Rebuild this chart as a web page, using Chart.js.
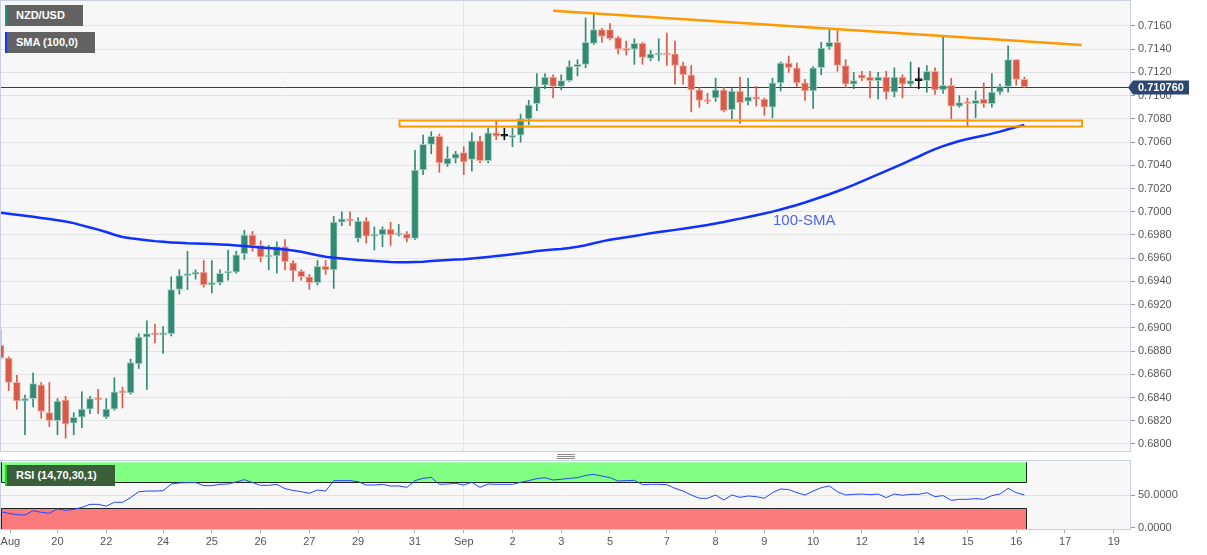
<!DOCTYPE html>
<html>
<head>
<meta charset="utf-8">
<script src="https://cdn.jsdelivr.net/npm/chart.js@4.4.0/dist/chart.umd.min.js"></script>
<style>
    body { margin: 0; background: #fff; font-family: "Liberation Sans", Arial, sans-serif; }
    #wrap { position: relative; width: 1207px; height: 555px; overflow: hidden; }
    #priceChart { position: absolute; left: 0; top: 0; }
    #rsiChart { position: absolute; left: 0; top: 453px; }
    .tag { position: absolute; left: 5px; height: 21px; line-height: 21px; padding-left: 9px;
           box-sizing: border-box; color: #fff; font-weight: bold; font-size: 11px; white-space: nowrap; }
    #smaNote { position: absolute; left: 773px; top: 211px; color: #4a66f2; font-size: 15px; }
    .grip { position: absolute; left: 557px; width: 18px; height: 1px; background: #8a8a8a; }
</style>
</head>
<body>
<div id="wrap">
    <canvas id="priceChart" width="1207" height="453"></canvas>
    <canvas id="rsiChart" width="1207" height="102"></canvas>
    <div class="tag" style="top:5px;width:78px;background:#626262;border-left:2px solid #2a8f74;">NZD/USD</div>
    <div class="tag" style="top:32px;width:90px;background:#626262;border-left:2px solid #1432ff;">SMA (100,0)</div>
    <div class="tag" style="top:465px;width:110px;background:#3a5e3a;border-left:2px solid #1ed41e;">RSI (14,70,30,1)</div>
    <div id="smaNote">100-SMA</div>
    <div class="grip" style="top:454px"></div>
    <div class="grip" style="top:456px"></div>
    <div class="grip" style="top:458px"></div>
</div>
<script>
// 4h candles, NZD/USD, Aug 19 - Sep 16
const opens = [
    0.6885,0.6874,0.6853,0.6837,0.6839,0.6851,0.6827,0.6820,0.6838,0.6818,
    0.6823,0.6830,0.6839,0.6823,0.6830,0.6845,0.6844,0.6869,0.6892,0.6895,
    0.6894,0.6895,0.6933,0.6945,0.6946,0.6948,0.6937,0.6939,0.6947,0.6948,
    0.6964,0.6980,0.6971,0.6961,0.6962,0.6970,0.6956,0.6949,0.6944,0.6939,
    0.6953,0.6950,0.6991,0.6994,0.6977,0.6992,0.6979,0.6980,0.6985,0.6980,
    0.6981,0.6977,0.7036,0.7058,0.7065,0.7041,0.7046,0.7051,0.7045,0.7061,
    0.7044,0.7068,0.7065,0.7064,0.7066,0.7080,0.7093,0.7109,0.7116,0.7108,
    0.7113,0.7125,0.7127,0.7145,0.7157,0.7157,0.7150,0.7140,0.7140,0.7145,
    0.7132,0.7135,0.7136,0.7136,0.7126,0.7118,0.7105,0.7096,0.7098,0.7105,
    0.7088,0.7104,0.7095,0.7099,0.7097,0.7090,0.7111,0.7128,0.7124,0.7111,
    0.7104,0.7124,0.7142,0.7146,0.7126,0.7110,0.7118,0.7116,0.7113,0.7116,
    0.7103,0.7116,0.7110,0.7113,0.7113,0.7121,0.7105,0.7109,0.7091,0.7094,
    0.7093,0.7097,0.7093,0.7103,0.7108,0.7131,0.7114
];
const highs = [
    0.6898,0.6875,0.6859,0.6842,0.6861,0.6853,0.6853,0.6839,0.6841,0.6827,
    0.6845,0.6841,0.6847,0.6839,0.6857,0.6849,0.6873,0.6895,0.6906,0.6903,
    0.6901,0.6944,0.6950,0.6966,0.6950,0.6958,0.6958,0.6950,0.6967,0.6966,
    0.6984,0.6983,0.6975,0.6971,0.6974,0.6976,0.6958,0.6950,0.6946,0.6958,
    0.6958,0.6996,0.7000,0.7000,0.6995,0.6995,0.6987,0.6987,0.6991,0.6989,
    0.6983,0.7053,0.7066,0.7069,0.7067,0.7056,0.7052,0.7056,0.7068,0.7065,
    0.7072,0.7078,0.7072,0.7072,0.7084,0.7096,0.7119,0.7119,0.7118,0.7118,
    0.7130,0.7131,0.7167,0.7170,0.7158,0.7162,0.7151,0.7147,0.7149,0.7146,
    0.7139,0.7149,0.7154,0.7147,0.7129,0.7126,0.7107,0.7102,0.7115,0.7107,
    0.7106,0.7116,0.7115,0.7108,0.7098,0.7115,0.7129,0.7134,0.7128,0.7114,
    0.7125,0.7146,0.7157,0.7156,0.7131,0.7120,0.7121,0.7121,0.7120,0.7121,
    0.7124,0.7118,0.7129,0.7124,0.7126,0.7124,0.7151,0.7115,0.7100,0.7098,
    0.7104,0.7111,0.7119,0.7110,0.7143,0.7131,0.7116
];
const lows = [
    0.6873,0.6846,0.6830,0.6808,0.6832,0.6822,0.6815,0.6808,0.6805,0.6808,
    0.6814,0.6826,0.6826,0.6822,0.6829,0.6831,0.6843,0.6865,0.6847,0.6887,
    0.6878,0.6893,0.6929,0.6933,0.6942,0.6935,0.6930,0.6937,0.6941,0.6947,
    0.6959,0.6966,0.6957,0.6950,0.6947,0.6950,0.6940,0.6941,0.6933,0.6937,
    0.6946,0.6934,0.6988,0.6988,0.6974,0.6973,0.6967,0.6970,0.6971,0.6979,
    0.6974,0.6976,0.7032,0.7050,0.7034,0.7039,0.7042,0.7032,0.7035,0.7042,
    0.7042,0.7062,0.7062,0.7056,0.7060,0.7075,0.7087,0.7106,0.7098,0.7105,
    0.7112,0.7117,0.7124,0.7144,0.7146,0.7148,0.7136,0.7135,0.7127,0.7127,
    0.7130,0.7130,0.7126,0.7110,0.7110,0.7086,0.7090,0.7093,0.7095,0.7086,
    0.7080,0.7076,0.7092,0.7091,0.7083,0.7081,0.7104,0.7120,0.7108,0.7096,
    0.7089,0.7118,0.7140,0.7121,0.7107,0.7106,0.7113,0.7098,0.7097,0.7097,
    0.7099,0.7098,0.7108,0.7106,0.7103,0.7101,0.7102,0.7080,0.7090,0.7074,
    0.7081,0.7090,0.7090,0.7101,0.7103,0.7109,0.7107
];
const closes = [
    0.6874,0.6853,0.6837,0.6839,0.6852,0.6828,0.6820,0.6837,0.6817,0.6823,
    0.6830,0.6839,0.6838,0.6830,0.6845,0.6844,0.6870,0.6892,0.6895,0.6894,
    0.6895,0.6933,0.6945,0.6946,0.6948,0.6937,0.6939,0.6947,0.6948,0.6963,
    0.6980,0.6971,0.6961,0.6962,0.6970,0.6957,0.6949,0.6944,0.6939,0.6953,
    0.6950,0.6991,0.6994,0.6992,0.6992,0.6979,0.6980,0.6985,0.6980,0.6981,
    0.6977,0.7036,0.7058,0.7065,0.7042,0.7046,0.7050,0.7043,0.7061,0.7044,
    0.7068,0.7065,0.7065,0.7065,0.7080,0.7092,0.7108,0.7116,0.7108,0.7113,
    0.7125,0.7127,0.7146,0.7157,0.7151,0.7149,0.7140,0.7139,0.7145,0.7133,
    0.7136,0.71355,0.7135,0.7126,0.7118,0.7105,0.7096,0.7095,0.7105,0.7087,
    0.7104,0.7094,0.7099,0.7097,0.7090,0.7111,0.7128,0.7124,0.7111,0.7104,
    0.7124,0.7141,0.7146,0.7126,0.7110,0.7113,0.7115,0.7113,0.7116,0.7103,
    0.7116,0.7110,0.7113,0.7113,0.7121,0.7105,0.7109,0.7091,0.7094,0.7093,
    0.7096,0.7093,0.7103,0.7108,0.7131,0.7114,0.71076
];
const sma100 = [
    0.69991,0.69982,0.69974,0.69966,0.69957,0.69947,0.69937,0.69927,0.69916,0.69902,
    0.69883,0.69864,0.69846,0.69826,0.69802,0.69783,0.69772,0.69764,0.69755,0.69747,
    0.69741,0.69736,0.69732,0.69728,0.69726,0.69724,0.69722,0.69719,0.69715,0.69709,
    0.69704,0.69699,0.69693,0.69687,0.69681,0.69674,0.69666,0.69655,0.69641,0.69625,
    0.69612,0.69604,0.69597,0.69591,0.69585,0.69580,0.69576,0.69572,0.69568,0.69566,
    0.69565,0.69567,0.69570,0.69575,0.69580,0.69585,0.69588,0.69591,0.69597,0.69603,
    0.69610,0.69618,0.69626,0.69634,0.69642,0.69652,0.69661,0.69668,0.69674,0.69680,
    0.69688,0.69698,0.69712,0.69728,0.69745,0.69758,0.69770,0.69781,0.69792,0.69803,
    0.69815,0.69825,0.69834,0.69844,0.69853,0.69864,0.69875,0.69886,0.69899,0.69912,
    0.69927,0.69941,0.69955,0.69970,0.69985,0.70001,0.70020,0.70039,0.70058,0.70080,
    0.70103,0.70127,0.70151,0.70177,0.70204,0.70232,0.70262,0.70292,0.70322,0.70352,
    0.70382,0.70413,0.70444,0.70476,0.70509,0.70539,0.70565,0.70588,0.70609,0.70627,
    0.70641,0.70656,0.70673,0.70690,0.70710,0.70730,0.70747
];
const rsi14 = [
    24.5,22,20,19.4,26,23.5,22,28.6,26.5,28,
    31,35.7,35.7,33,38.8,38.8,46,55,56,56,
    56.6,66.8,68.4,69,69,64.3,64.3,66.3,66.8,70,
    73.5,69,64.8,64.8,66.3,59.7,57,55,52.5,57.6,
    56,72,72,72,70.4,65.3,65.3,66.3,63.8,63.8,
    61.7,72,75.5,77,66.3,66.8,67.8,65.3,69.4,61.7,
    66.8,66.3,66.3,66.3,69.4,72,75,76.5,73,74,
    75.5,76.5,80,81.6,79,76.5,71.4,72,72.4,65.8,
    66.3,66.3,65.8,60.2,56,50,45,45,50,42.4,
    50,46.4,48.5,47.5,45,53.6,59.2,58.2,53.6,50,
    56,61.2,63.8,55,50,51,51.5,50.5,51.5,46,
    51.5,49.5,51,51,53.6,47.5,49,41.8,43.4,43.4,
    44.4,43.4,49,51.5,60.2,53.6,50
];

// bottom axis labels (candle index -> text)
const tickIndex = [1.2, 7, 13, 20, 26, 32, 38, 44, 51, 57, 63, 69, 75, 82, 88, 94, 100, 106, 113, 119, 125, 131, 137];
const tickText = ['Aug', '20', '22', '24', '25', '26', '27', '29', '31', 'Sep', '2', '3', '5', '7', '8', '9', '10', '12', '14', '15', '16', '17', '19'];
const priceTicks = [0.6800, 0.6820, 0.6840, 0.6860, 0.6880, 0.6900, 0.6920, 0.6940, 0.6960, 0.6980,
                    0.7000, 0.7020, 0.7040, 0.7060, 0.7080, 0.7100, 0.7120, 0.7140, 0.7160];
const rsiTicks = [0, 50];
const monthStart = 57;

// drawn studies: falling resistance line and support zone
const resistanceLine = [[68.0, 0.71732], [133.05, 0.71436]];
const supportZone = [49.1, 133.1, 0.70734, 0.70786];

const xMin = 0.05, xMax = 139.0;
const lastPrice = closes[closes.length - 1];
const GREEN = '#338a73', RED = '#d95a48';

function candleColor(i) {
    if (closes[i] > opens[i]) return GREEN;
    if (closes[i] < opens[i]) return RED;
    return '#111';
}
function candleEdge(i) {
    if (closes[i] > opens[i]) return 'rgba(160,205,192,0.9)';
    if (closes[i] < opens[i]) return 'rgba(240,170,160,0.9)';
    return '#111';
}

function clearPadding(s) {
    s.paddingLeft = 0; s.paddingRight = 0; s.paddingTop = 0; s.paddingBottom = 0;
}

const frame = {
    id: 'frame',
    beforeDraw(chart) {
        const a = chart.chartArea, ctx = chart.ctx;
        ctx.save();
        ctx.fillStyle = '#f7f7f7';
        ctx.fillRect(a.left, a.top, a.right - a.left, a.bottom - a.top);
        ctx.restore();
    },
    afterDraw(chart) {
        const a = chart.chartArea, ctx = chart.ctx;
        ctx.save();
        ctx.strokeStyle = '#c9d0e4';
        ctx.lineWidth = 1;
        ctx.strokeRect(a.left - 0.5, a.top - 0.5, a.right - a.left + 1, a.bottom - a.top + 1);
        ctx.restore();
    }
};

const priceMarks = {
    id: 'priceMarks',
    beforeDatasetsDraw(chart) {
        const a = chart.chartArea, ctx = chart.ctx;
        const y = Math.round(chart.scales.y.getPixelForValue(lastPrice)) + 0.5;
        ctx.save();
        ctx.strokeStyle = '#2b3d63';
        ctx.lineWidth = 1;
        ctx.beginPath();
        ctx.moveTo(a.left, y);
        ctx.lineTo(a.right, y);
        ctx.stroke();
        ctx.restore();
    },
    afterDatasetsDraw(chart) {
        const x = chart.scales.x, y = chart.scales.y, ctx = chart.ctx;
        ctx.save();
        ctx.strokeStyle = '#ff9900';
        ctx.lineWidth = 2.5;
        ctx.beginPath();
        ctx.moveTo(x.getPixelForValue(resistanceLine[0][0]), y.getPixelForValue(resistanceLine[0][1]));
        ctx.lineTo(x.getPixelForValue(resistanceLine[1][0]), y.getPixelForValue(resistanceLine[1][1]));
        ctx.stroke();
        ctx.lineWidth = 2;
        const x0 = x.getPixelForValue(supportZone[0]), x1 = x.getPixelForValue(supportZone[1]);
        const y0 = y.getPixelForValue(supportZone[3]), y1 = y.getPixelForValue(supportZone[2]);
        ctx.strokeRect(x0, y0, x1 - x0, y1 - y0);
        ctx.restore();
    },
    afterDraw(chart) {
        const a = chart.chartArea, ctx = chart.ctx;
        const y = Math.round(chart.scales.y.getPixelForValue(lastPrice)) + 0.5;
        ctx.save();
        ctx.fillStyle = '#2d4770';
        ctx.beginPath();
        ctx.moveTo(a.right - 2, y);
        ctx.lineTo(a.right + 3, y - 7);
        ctx.lineTo(a.right + 59, y - 7);
        ctx.lineTo(a.right + 59, y + 7);
        ctx.lineTo(a.right + 3, y + 7);
        ctx.closePath();
        ctx.fill();
        ctx.fillStyle = '#fff';
        ctx.font = 'bold 11px "Liberation Sans", Arial, sans-serif';
        ctx.textBaseline = 'middle';
        ctx.fillText(lastPrice.toFixed(6), a.right + 8, y + 0.5);
        ctx.restore();
    }
};

const rsiBands = {
    id: 'rsiBands',
    beforeDatasetsDraw(chart) {
        const a = chart.chartArea, ctx = chart.ctx;
        const x = chart.scales.x, y = chart.scales.y;
        const xe = Math.round(x.getPixelForValue(126.2)) + 0.5;
        const y100 = y.getPixelForValue(100), y70 = Math.round(y.getPixelForValue(70)) + 0.5;
        const y30 = Math.round(y.getPixelForValue(30)) + 0.5;
        ctx.save();
        ctx.fillStyle = '#80ff80';
        ctx.fillRect(a.left, y100, xe - a.left, y70 - y100);
        ctx.fillStyle = '#fa7b7b';
        ctx.fillRect(a.left, y30, xe - a.left, a.bottom - y30);
        ctx.strokeStyle = '#222';
        ctx.lineWidth = 1;
        ctx.beginPath();
        ctx.moveTo(a.left + 0.5, y100); ctx.lineTo(a.left + 0.5, y70); ctx.lineTo(xe, y70); ctx.lineTo(xe, y100);
        ctx.moveTo(a.left + 0.5, a.bottom); ctx.lineTo(a.left + 0.5, y30); ctx.lineTo(xe, y30); ctx.lineTo(xe, a.bottom);
        ctx.stroke();
        ctx.restore();
    }
};

Chart.defaults.font.family = '"Liberation Sans", Arial, sans-serif';
Chart.defaults.font.size = 11;
Chart.defaults.color = '#555';

function createPriceChart() {
    const ctx = document.getElementById('priceChart').getContext('2d');
    return new Chart(ctx, {
        type: 'bar',
        data: {
            datasets: [{
                type: 'line',
                data: sma100.map((v, i) => ({x: i, y: v})),
                borderColor: '#1030ff',
                borderWidth: 2.5,
                pointRadius: 0,
                order: 0
            }, {
                data: opens.map((o, i) => ({x: i, y: [o, closes[i]]})),
                backgroundColor: opens.map((o, i) => candleColor(i)),
                borderColor: opens.map((o, i) => candleEdge(i)),
                borderWidth: 1,
                borderSkipped: false,
                barThickness: 7,
                minBarLength: 2,
                grouped: false,
                order: 1
            }, {
                data: highs.map((h, i) => ({x: i, y: [lows[i], h]})),
                backgroundColor: opens.map((o, i) => candleColor(i)),
                barThickness: 1,
                grouped: false,
                order: 2
            }]
        },
        options: {
            responsive: false,
            animation: false,
            layout: {padding: {left: 1, top: 1, right: 0, bottom: 2}},
            plugins: {legend: {display: false}, tooltip: {enabled: false}},
            scales: {
                x: {
                    type: 'linear', min: xMin, max: xMax, offset: false,
                    grid: {offset: false, color: '#e4e4e4', drawTicks: false},
                    border: {display: false},
                    ticks: {display: false},
                    afterBuildTicks: s => { s.ticks = [{value: monthStart}]; },
                    afterFit: s => { s.height = 0; clearPadding(s); }
                },
                y: {
                    position: 'right', min: 0.679393, max: 0.718153,
                    grid: {color: '#e3e3e3', tickLength: 5, tickColor: '#999'},
                    border: {display: false},
                    ticks: {padding: 3, callback: v => v.toFixed(4)},
                    afterBuildTicks: s => { s.ticks = priceTicks.map(v => ({value: v})); },
                    afterFit: s => { s.width = 77; clearPadding(s); }
                }
            }
        },
        plugins: [frame, priceMarks]
    });
}

function createRsiChart() {
    const ctx = document.getElementById('rsiChart').getContext('2d');
    return new Chart(ctx, {
        type: 'line',
        data: {
            datasets: [{
                data: rsi14.map((v, i) => ({x: i, y: v})),
                borderColor: '#2446ff',
                borderWidth: 1,
                pointRadius: 0
            }]
        },
        options: {
            responsive: false,
            animation: false,
            layout: {padding: {left: 1, top: 8, right: 0, bottom: 0}},
            plugins: {legend: {display: false}, tooltip: {enabled: false}},
            scales: {
                x: {
                    type: 'linear', min: xMin, max: xMax,
                    grid: {
                        color: c => (c.tick && c.tick.value === monthStart) ? '#e4e4e4' : 'rgba(0,0,0,0)',
                        tickColor: '#aaa', tickLength: 4
                    },
                    border: {display: false},
                    ticks: {
                        padding: 2, autoSkip: false, maxRotation: 0,
                        callback: v => tickText[tickIndex.indexOf(v)]
                    },
                    afterBuildTicks: s => { s.ticks = tickIndex.map(v => ({value: v})); },
                    afterFit: s => { s.height = 26; clearPadding(s); }
                },
                y: {
                    position: 'right', min: -2, max: 102,
                    grid: {
                        color: c => (c.tick && c.tick.value === 50) ? '#e3e3e3' : 'rgba(0,0,0,0)',
                        tickColor: '#999', tickLength: 5
                    },
                    border: {display: false},
                    ticks: {padding: 3, callback: v => v.toFixed(4)},
                    afterBuildTicks: s => { s.ticks = rsiTicks.map(v => ({value: v})); },
                    afterFit: s => { s.width = 77; clearPadding(s); }
                }
            }
        },
        plugins: [frame, rsiBands]
    });
}

createPriceChart();
createRsiChart();
</script>
</body>
</html>
